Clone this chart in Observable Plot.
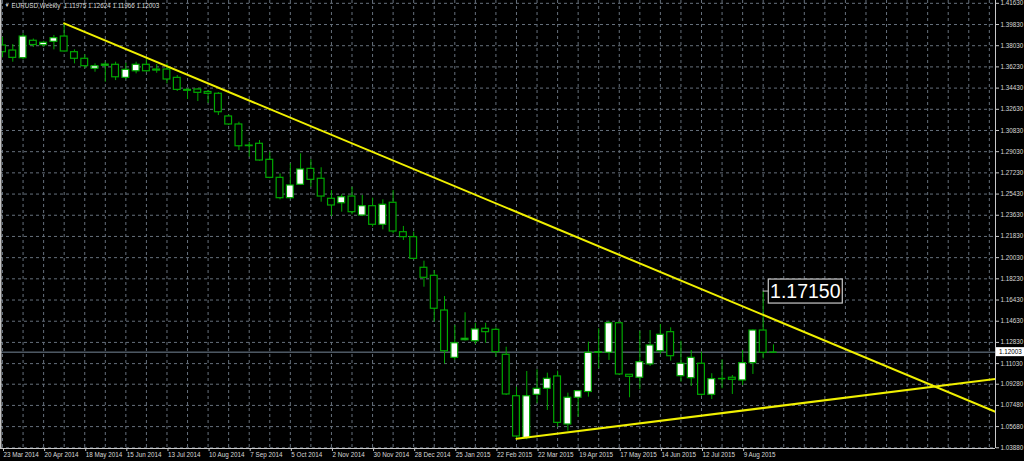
<!DOCTYPE html>
<html><head><meta charset="utf-8">
<script src="https://cdn.jsdelivr.net/npm/d3@7"></script>
<script src="https://cdn.jsdelivr.net/npm/@observablehq/plot@0.6"></script>
<style>html,body{margin:0;padding:0;background:#000;overflow:hidden}</style>
</head><body><div id="chart"></div>
<script>
// Weekly EURUSD candles, week 0 = 23 Mar 2014
const opens  = [1.3805,1.3762,1.3697,1.3845,1.3807,1.3836,1.3881,1.3748,1.3692,1.3607,1.3632,1.3641,1.3530,1.3586,1.3641,1.3592,1.3601,1.3530,1.3428,1.3431,1.3410,1.3395,1.3202,1.3134,1.2950,1.2970,1.2834,1.2681,1.2508,1.2622,1.2757,1.2673,1.2503,1.2465,1.2522,1.2361,1.2440,1.2282,1.2469,1.2219,1.2177,1.1917,1.1849,1.1554,1.1152,1.1302,1.1293,1.1399,1.1390,1.1178,1.0826,1.0470,1.0838,1.0889,1.0994,1.0586,1.0813,1.0862,1.1195,1.1195,1.1446,1.1008,1.0983,1.1096,1.1208,1.1370,1.0996,1.0979,1.1102,1.0838,1.0972,1.0983,1.0960,1.1107,1.1384,1.11975];
const highs  = [1.3875,1.3813,1.3904,1.3860,1.3841,1.3890,1.3993,1.3768,1.3726,1.3649,1.3663,1.3663,1.3654,1.3663,1.3692,1.3643,1.3649,1.3550,1.3437,1.3437,1.3423,1.3405,1.3214,1.3153,1.2983,1.2998,1.2898,1.2715,1.2800,1.2885,1.2834,1.2766,1.2573,1.2537,1.2601,1.2531,1.2508,1.2494,1.2573,1.2268,1.2219,1.1973,1.1894,1.1673,1.1427,1.1535,1.1446,1.1446,1.1407,1.1242,1.0903,1.1036,1.1050,1.1022,1.1039,1.0852,1.0875,1.1285,1.1399,1.1463,1.1455,1.1008,1.1378,1.1384,1.1435,1.1407,1.1293,1.1214,1.1200,1.1017,1.1135,1.1002,1.1214,1.1390,1.1715,1.12624];
const lows   = [1.3700,1.3663,1.3683,1.3788,1.3790,1.3768,1.3750,1.3649,1.3607,1.3578,1.3493,1.3507,1.3513,1.3564,1.3578,1.3569,1.3479,1.3414,1.3346,1.3329,1.3312,1.3210,1.3125,1.2913,1.2856,1.2822,1.2673,1.2494,1.2503,1.2616,1.2601,1.2474,1.2352,1.2389,1.2367,1.2352,1.2262,1.2239,1.2205,1.2149,1.1985,1.1752,1.1455,1.1100,1.1130,1.1295,1.1265,1.1276,1.1157,1.0832,1.0465,1.0456,1.0762,1.0705,1.0563,1.0529,1.0648,1.0818,1.1059,1.1130,1.1002,1.0813,1.0881,1.1079,1.1180,1.1124,1.0945,1.0909,1.0826,1.0798,1.0889,1.0841,1.0917,1.1011,1.1144,1.11966];
const closes = [1.3748,1.3700,1.3881,1.3809,1.3828,1.3867,1.3754,1.3692,1.3629,1.3629,1.3643,1.3535,1.3598,1.3641,1.3586,1.3601,1.3516,1.3428,1.3420,1.3403,1.3395,1.3238,1.3134,1.2949,1.2955,1.2828,1.2681,1.2508,1.2616,1.2752,1.2664,1.2522,1.2446,1.2516,1.2389,1.2440,1.2282,1.2452,1.2225,1.2177,1.1993,1.1832,1.1569,1.1208,1.1276,1.1314,1.1393,1.1370,1.1200,1.0841,1.0484,1.0826,1.0889,1.0974,1.0600,1.0813,1.0869,1.1195,1.1200,1.1446,1.1011,1.0991,1.1115,1.1257,1.1348,1.1166,1.1102,1.1152,1.0838,1.0971,1.0976,1.0966,1.1107,1.1384,1.1195,1.12003];

const xTickWeeks  = [0,4,8,12,16,20,24,28,32,36,40,44,48,52,56,60,64,68,72];
const xTickLabels = ["23 Mar 2014","20 Apr 2014","18 May 2014","15 Jun 2014","13 Jul 2014","10 Aug 2014","7 Sep 2014","5 Oct 2014","2 Nov 2014","30 Nov 2014","28 Dec 2014","25 Jan 2015","22 Feb 2015","22 Mar 2015","19 Apr 2015","17 May 2015","14 Jun 2015","12 Jul 2015","9 Aug 2015"];
const yTickLabels = ["1.41630","1.39830","1.38030","1.36230","1.34430","1.32630","1.30830","1.29030","1.27230","1.25430","1.23630","1.21830","1.20030","1.18230","1.16430","1.14630","1.12830","1.11030","1.09280","1.07480","1.05680","1.03880"];

// trend lines (week, price)
const upperTrendWeeks = [6, 96.6];
const upperTrendPrices = [1.3993, 1.0694];
const lowerTrendWeeks = [50, 96.6];
const lowerTrendPrices = [1.0465, 1.0972];

const peakWeek = 74, peakPrice = 1.1715, peakLabel = "1.17150";
const titleText = "EURUSD,Weekly  1.11975 1.12624 1.11966 1.12003";
const lastClose = 1.12003, lastLabel = "1.12003";

const candles = opens.map((o, i) => ({i, open: o, high: highs[i], low: lows[i], close: closes[i]}));
const yTicks = yTickLabels.map(Number);
const xLabelOf = new Map(xTickWeeks.map((w, j) => [w, xTickLabels[j]]));
const upperTrend = upperTrendWeeks.map((w, j) => ({w, p: upperTrendPrices[j]}));
const lowerTrend = lowerTrendWeeks.map((w, j) => ({w, p: lowerTrendPrices[j]}));
const gridWeeks = d3.range(0, 97, 2);

const GREEN = "#00a800", GRID = "#66707c", TXT = "#d8d8d8", FRAME = "#c8c8c8";
const FONT = 6.3;

function annotations(...args) {
  const scales = args.find(a => a && typeof a.x === "function" && typeof a.y === "function");
  const dims = args.find(a => a && typeof a.width === "number" && typeof a.marginRight === "number");
  const g = d3.create("svg:g");
  const px = scales.x(peakWeek), py = scales.y(peakPrice);
  g.append("line").attr("x1", px).attr("x2", px + 6).attr("y1", py).attr("y2", py).attr("stroke", FRAME);
  g.append("rect").attr("x", px + 5.6).attr("y", py - 12).attr("width", 74).attr("height", 24)
    .attr("fill", "#000").attr("stroke", FRAME).attr("stroke-width", 1.2);
  g.append("text").attr("x", px + 5.6 + 37).attr("y", py).attr("dy", "0.36em").attr("text-anchor", "middle")
    .attr("font-size", 19.5).attr("fill", "#fff").text(peakLabel);
  const cy = scales.y(lastClose);
  const rx = dims.width - dims.marginRight;
  g.append("rect").attr("x", rx + 1).attr("y", cy - 4.5).attr("width", dims.marginRight).attr("height", 9).attr("fill", "#fff");
  g.append("text").attr("x", rx + 4).attr("y", cy).attr("dy", "0.34em").attr("text-anchor", "start")
    .attr("font-size", FONT).attr("fill", "#000").text(lastLabel);
  return g.node();
}

const chart = Plot.plot({
  width: 1024, height: 461,
  marginLeft: 0, marginRight: 29, marginTop: 0, marginBottom: 13,
  style: {background: "#000", color: TXT, fontFamily: "'Liberation Sans', Arial, sans-serif"},
  x: {type: "linear", domain: [-0.195, 96.6], axis: null},
  y: {type: "linear", domain: [1.0382, 1.4187], axis: null},
  marks: [
    Plot.gridX(gridWeeks, {stroke: GRID, strokeOpacity: 1, strokeDasharray: "3,3"}),
    Plot.gridY(yTicks, {stroke: GRID, strokeOpacity: 1, strokeDasharray: "3,3"}),
    Plot.ruleY([lastClose], {stroke: "#778899", strokeWidth: 1}),
    Plot.ruleX(candles, {x: "i", y1: "low", y2: "high", stroke: GREEN, strokeWidth: 1}),
    Plot.rect(candles.filter(d => Math.abs(d.close - d.open) >= 0.0004), {
      x1: d => d.i - 0.33, x2: d => d.i + 0.33, y1: "open", y2: "close",
      fill: d => d.close >= d.open ? "#ffffff" : "#000000", stroke: GREEN, strokeWidth: 1.2
    }),
    Plot.ruleY(candles.filter(d => Math.abs(d.close - d.open) < 0.0004), {
      x1: d => d.i - 0.36, x2: d => d.i + 0.36, y: "close", stroke: GREEN, strokeWidth: 1.5
    }),
    Plot.line(upperTrend, {x: "w", y: "p", stroke: "#f0f000", strokeWidth: 2, clip: true}),
    Plot.line(lowerTrend, {x: "w", y: "p", stroke: "#f0f000", strokeWidth: 2, clip: true}),
    Plot.ruleX([-0.195], {stroke: FRAME, strokeWidth: 2}),
    Plot.ruleX([96.6], {stroke: FRAME, strokeWidth: 1}),
    Plot.ruleY([1.0382], {stroke: FRAME, strokeWidth: 1}),
    Plot.axisY(yTicks, {anchor: "right", tickFormat: d => d.toFixed(5), tickSize: 3, tickPadding: 2,
      fontSize: FONT, fill: TXT, stroke: FRAME}),
    Plot.axisX(xTickWeeks, {anchor: "bottom", tickFormat: d => xLabelOf.get(d), tickSize: 3, tickPadding: 1,
      textAnchor: "start", dx: 1, fontSize: FONT, fill: TXT, stroke: FRAME}),
    Plot.text(["\u25BC"], {frameAnchor: "top-left", dx: 4, dy: 3, fontSize: 5, fill: TXT}),
    Plot.text([titleText], {frameAnchor: "top-left", dx: 11, dy: 3, fontSize: FONT, fill: TXT}),
    annotations
  ]
});
document.getElementById("chart").appendChild(chart);
</script>
</body></html>
